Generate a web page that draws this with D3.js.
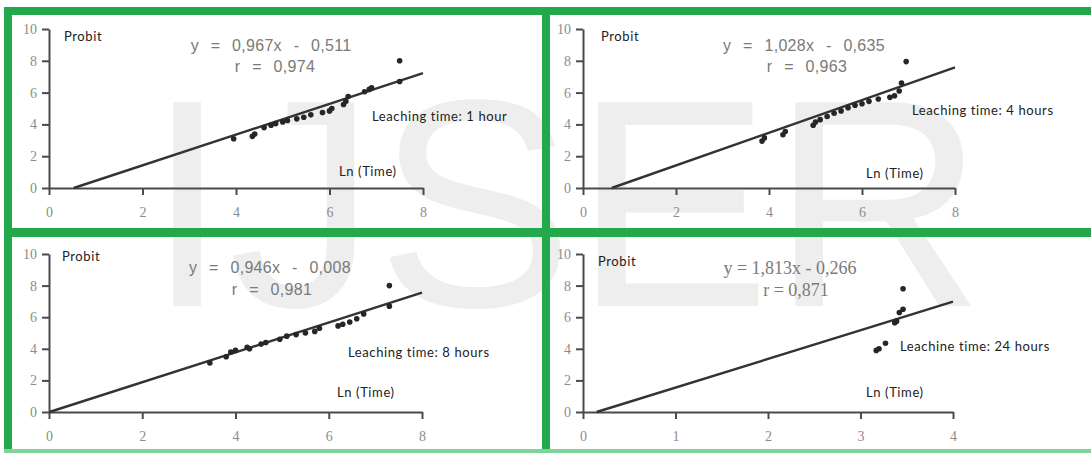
<!DOCTYPE html>
<html>
<head>
<meta charset="utf-8">
<script src="https://cdn.jsdelivr.net/npm/d3@7"></script>
<style>
  html, body { margin: 0; padding: 0; background: #fff; }
  svg { display: block; }
</style>
</head>
<body>
<svg id="chart" width="1091" height="453"></svg>
<script>
// Probit vs Ln(Time) for four leaching times
const panelTitles = ["Leaching time: 1 hour", "Leaching time: 4 hours", "Leaching time: 8 hours", "Leachine time: 24 hours"];
const slopes = [0.967, 1.028, 0.946, 1.813];
const intercepts = [-0.511, -0.635, -0.008, -0.266];
const rValues = ["0,974", "0,963", "0,981", "0,871"];
const equations = ["y = 0,967x - 0,511", "y = 1,028x - 0,635", "y = 0,946x - 0,008", "y = 1,813x - 0,266"];

const x1h = [3.95, 4.35, 4.4, 4.6, 4.75, 4.85, 5.0, 5.1, 5.3, 5.45, 5.6, 5.85, 6.0, 6.05, 6.3, 6.35, 6.4, 6.75, 6.85, 6.9, 7.5, 7.5];
const y1h = [3.1, 3.25, 3.4, 3.8, 3.95, 4.05, 4.15, 4.25, 4.35, 4.45, 4.6, 4.75, 4.85, 5.0, 5.25, 5.45, 5.75, 6.05, 6.2, 6.3, 6.7, 8.0];
const x4h = [3.85, 3.9, 4.3, 4.35, 4.95, 5.0, 5.1, 5.25, 5.4, 5.55, 5.7, 5.85, 6.0, 6.15, 6.35, 6.6, 6.7, 6.8, 6.85, 6.95];
const y4h = [2.95, 3.15, 3.35, 3.55, 3.95, 4.15, 4.3, 4.5, 4.7, 4.85, 5.05, 5.2, 5.3, 5.45, 5.6, 5.7, 5.8, 6.1, 6.6, 7.95];
const x8h = [3.45, 3.8, 3.9, 4.0, 4.25, 4.3, 4.55, 4.65, 4.95, 5.1, 5.3, 5.5, 5.7, 5.8, 6.2, 6.3, 6.45, 6.6, 6.75, 7.3, 7.3];
const y8h = [3.1, 3.5, 3.8, 3.9, 4.1, 4.0, 4.3, 4.4, 4.6, 4.8, 4.9, 5.0, 5.1, 5.3, 5.45, 5.55, 5.7, 5.9, 6.2, 6.7, 8.0];
const x24h = [3.17, 3.2, 3.27, 3.37, 3.39, 3.42, 3.46, 3.46];
const y24h = [3.9, 4.0, 4.35, 5.65, 5.75, 6.3, 6.5, 7.8];

const xTicksWide = [0, 2, 4, 6, 8];
const xTicksNarrow = [0, 1, 2, 3, 4];
const yTicks = [0, 2, 4, 6, 8, 10];
const xMaxes = [8, 8, 8, 4];

const seriesX = [x1h, x4h, x8h, x24h];
const seriesY = [y1h, y4h, y8h, y24h];
const xTickSets = [xTicksWide, xTicksWide, xTicksWide, xTicksNarrow];

// Plot frames and text anchors, in pixels
const frames = [
  { l: 49,  r: 423, b: 188, t: 29,  probit: [64, 41],  eq: [271, 51],  rr: [275, 72],  title: [372, 121], ln: [339, 176], serif: false },
  { l: 583, r: 955, b: 188, t: 29,  probit: [601, 41], eq: [804, 51],  rr: [807, 72],  title: [912, 115], ln: [866, 178], serif: false },
  { l: 49,  r: 422, b: 412, t: 254, probit: [62, 261], eq: [270, 273], rr: [272, 295], title: [348, 357], ln: [337, 397], serif: false },
  { l: 583, r: 953, b: 412, t: 254, probit: [598, 266], eq: [790, 274], rr: [796, 296], title: [900, 351], ln: [866, 397], serif: true }
];

const svg = d3.select("#chart");
const green = "#23a84b";
const ink = "#262626";

// Faint watermark behind the plots
svg.append("text")
  .attr("x", 146).attr("y", 306)
  .attr("font-family", "Liberation Sans, Arial, sans-serif")
  .attr("font-size", 296)
  .attr("fill", "#eeeeee")
  .text("IJSER");

// Green panel borders
const borderRects = [
  [4, 7, 1087, 8],     // top band
  [4, 7, 8, 446],      // left band
  [4, 228, 1087, 9],   // middle band
  [542, 7, 8, 446]     // centre divider
];
svg.selectAll("rect.border").data(borderRects).join("rect")
  .attr("class", "border")
  .attr("x", d => d[0]).attr("y", d => d[1])
  .attr("width", d => d[2]).attr("height", d => d[3])
  .attr("fill", green);
svg.append("rect").attr("x", 4).attr("y", 449).attr("width", 1087).attr("height", 4).attr("fill", "#7fd49a");

frames.forEach((f, i) => {
  const x = d3.scaleLinear().domain([0, xMaxes[i]]).range([f.l, f.r]);
  const y = d3.scaleLinear().domain([0, 10]).range([f.b, f.t]);
  const g = svg.append("g");

  const tickFont = "Liberation Serif, Times New Roman, serif";

  const xAxis = g.append("g").attr("transform", `translate(0,${f.b})`)
    .call(d3.axisBottom(x).tickValues(xTickSets[i]).tickSize(7).tickSizeOuter(0).tickPadding(12).tickFormat(d3.format("d")));
  const yAxis = g.append("g").attr("transform", `translate(${f.l},0)`)
    .call(d3.axisLeft(y).tickValues(yTicks).tickSize(7).tickSizeOuter(0).tickPadding(5).tickFormat(d3.format("d")));

  [xAxis, yAxis].forEach(a => {
    a.select(".domain").attr("stroke", "#4a4a4a").attr("stroke-width", 2);
    a.selectAll(".tick line").attr("stroke", "#4a4a4a").attr("stroke-width", 2);
    a.selectAll(".tick text").attr("font-family", tickFont).attr("font-size", 14).attr("fill", "#8c8c8c");
  });

  // Fitted regression line, from the x-intercept to the end of the axis
  const a = slopes[i], b = intercepts[i];
  const xs = [-b / a, xMaxes[i]];
  g.append("path")
    .datum(xs)
    .attr("d", d3.line().x(d => x(d)).y(d => y(a * d + b)))
    .attr("stroke", "#333").attr("stroke-width", 2.4).attr("fill", "none");

  // Observed points
  const pts = seriesX[i].map((v, k) => [v, seriesY[i][k]]);
  g.selectAll("circle").data(pts).join("circle")
    .attr("cx", d => x(d[0])).attr("cy", d => y(d[1]))
    .attr("r", 2.8).attr("fill", ink);

  const labelFont = "Lato, Open Sans, sans-serif";
  g.append("text").attr("x", f.probit[0]).attr("y", f.probit[1])
    .attr("font-family", labelFont).attr("font-size", 13).attr("letter-spacing", 0.6)
    .attr("fill", "#222").text("Probit");

  const eqFont = f.serif ? "Liberation Serif, Times New Roman, serif" : "Liberation Sans, Arial, sans-serif";
  const eqSize = f.serif ? 18 : 16;
  const eqText = g.append("g")
    .attr("font-family", eqFont).attr("font-size", eqSize).attr("fill", "#7a7a7a")
    .attr("text-anchor", "middle")
    .attr("letter-spacing", f.serif ? 0 : 0.3)
    .attr("word-spacing", f.serif ? 0 : 7);
  eqText.append("text").attr("x", f.eq[0]).attr("y", f.eq[1]).text(equations[i]);
  eqText.append("text").attr("x", f.rr[0]).attr("y", f.rr[1]).text("r = " + rValues[i]);

  g.append("text").attr("x", f.title[0]).attr("y", f.title[1])
    .attr("font-family", labelFont).attr("font-size", 13).attr("letter-spacing", 0.6)
    .attr("fill", "#222").text(panelTitles[i]);

  g.append("text").attr("x", f.ln[0]).attr("y", f.ln[1])
    .attr("font-family", labelFont).attr("font-size", 13).attr("letter-spacing", 0.6)
    .attr("fill", "#222").text("Ln (Time)");
});
</script>
</body>
</html>
